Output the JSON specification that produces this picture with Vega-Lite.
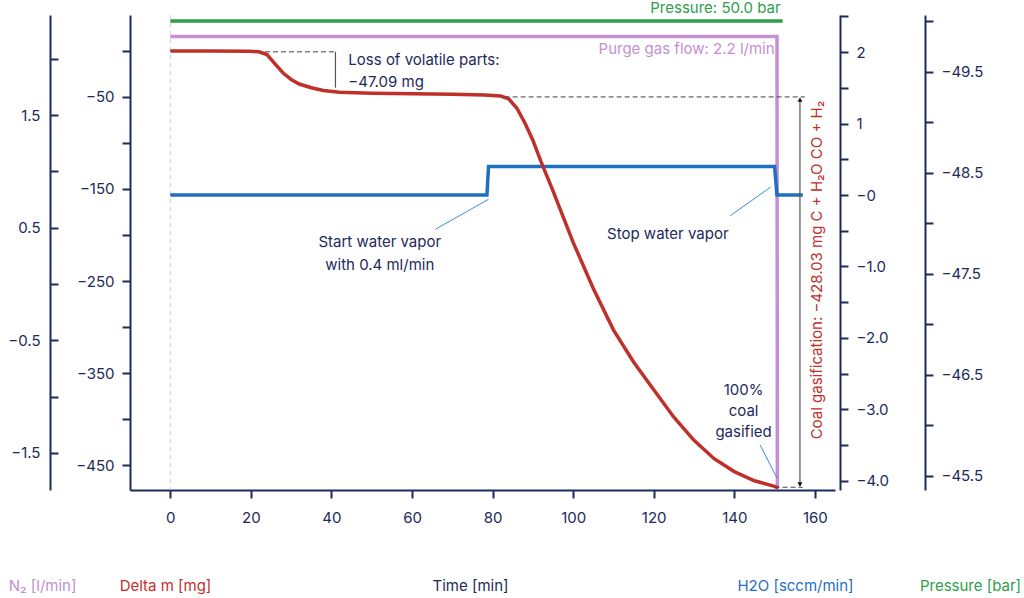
{
  "$schema": "https://vega.github.io/schema/vega-lite/v6.json",
  "autosize": "none",
  "width": 705,
  "height": 475,
  "padding": {"left": 130, "top": 15, "right": 189, "bottom": 108},
  "background": "white",
  "config": {
    "font": "Inter",
    "view": {"stroke": null},
    "axis": {
      "domainColor": "#1d2a5a", "domainWidth": 2, "tickColor": "#1d2a5a", "tickWidth": 2, "tickSize": 8,
      "labelColor": "#1d2a5a", "labelFontSize": 15, "labelPadding": 8, "grid": false,
      "titleFontSize": 15, "titleFontWeight": "normal", "titleAngle": 0, "titleBaseline": "middle"
    }
  },
  "datasets": {
    "mass": [
      {"t": 0, "v": 0}, {"t": 10, "v": 0}, {"t": 20, "v": -0.5}, {"t": 22, "v": -1}, {"t": 24, "v": -4},
      {"t": 26, "v": -14}, {"t": 28, "v": -24}, {"t": 30, "v": -31}, {"t": 32, "v": -36}, {"t": 35, "v": -40},
      {"t": 38, "v": -43}, {"t": 42, "v": -45}, {"t": 50, "v": -46}, {"t": 60, "v": -46.5}, {"t": 70, "v": -47},
      {"t": 78, "v": -48}, {"t": 82, "v": -49}, {"t": 84, "v": -52}, {"t": 86, "v": -62}, {"t": 88, "v": -78},
      {"t": 90, "v": -97}, {"t": 92, "v": -120}, {"t": 95, "v": -152}, {"t": 100, "v": -208}, {"t": 105, "v": -258},
      {"t": 110, "v": -303}, {"t": 115, "v": -338}, {"t": 120, "v": -368}, {"t": 125, "v": -398}, {"t": 130, "v": -423},
      {"t": 135, "v": -443}, {"t": 140, "v": -457}, {"t": 145, "v": -467}, {"t": 150, "v": -473}, {"t": 151, "v": -475}
    ],
    "water": [
      {"t": 0, "v": 0}, {"t": 78.6, "v": 0}, {"t": 79, "v": 0.4}, {"t": 150, "v": 0.4}, {"t": 150.6, "v": 0}, {"t": 157, "v": 0}
    ],
    "purge": [{"t": 0, "v": 2.2}, {"t": 150.6, "v": 2.2}, {"t": 150.7, "v": -1.8}],
    "pressure": [{"t": 0, "v": -50}, {"t": 152, "v": -50}]
  },
  "encoding": {
    "x": {
      "field": "t", "type": "quantitative",
      "scale": {"domain": [-10, 165], "nice": false},
      "axis": {"values": [0, 20, 40, 60, 80, 100, 120, 140, 160], "title": "Time [min]", "titleColor": "#1d2a5a", "titleX": 340, "titleY": 95, "labelPadding": 12}
    }
  },
  "layer": [
    {
      "data": {"values": [{"t": 0}]},
      "mark": {"type": "rule", "color": "#cccccc", "strokeDash": [4, 4], "strokeWidth": 1},
      "encoding": {}
    },
    {
      "data": {"name": "purge"},
      "mark": {"type": "line", "color": "#c48fd3", "strokeWidth": 3.5},
      "encoding": {
        "y": {"field": "v", "type": "quantitative", "scale": {"domain": [-1.83, 2.39], "nice": false, "zero": false},
          "axis": {"orient": "left", "offset": 80, "tickSize": -8, "labelPadding": 18, "values": [2, 1.5, 1, 0.5, 0, -0.5, -1, -1.5],
            "labelExpr": "abs(datum.value % 1) == 0.5 ? (datum.value < 0 ? '−' + format(-datum.value, '.1f') : format(datum.value, '.1f')) : ''",
            "title": "N₂ [l/min]", "titleColor": "#c48fd3", "titleX": -8, "titleY": 570}}
      }
    },
    {
      "data": {"name": "pressure"},
      "mark": {"type": "line", "color": "#2e9e4a", "strokeWidth": 3.5},
      "encoding": {
        "y": {"field": "v", "type": "quantitative", "scale": {"domain": [-50.06, -45.36], "nice": false, "zero": false, "reverse": true},
          "axis": {"orient": "right", "offset": 90, "values": [-50, -49.5, -49, -48.5, -48, -47.5, -47, -46.5, -46, -45.5],
            "labelExpr": "abs(datum.value % 1) == 0.5 ? '−' + format(-datum.value, '.1f') : ''",
            "title": "Pressure [bar]", "titleColor": "#2e9e4a", "titleX": 45, "titleY": 570}}
      }
    },
    {
      "data": {"name": "water"},
      "mark": {"type": "line", "color": "#1f70c1", "strokeWidth": 3.5},
      "encoding": {
        "y": {"field": "v", "type": "quantitative", "scale": {"domain": [-4.13, 2.52], "nice": false, "zero": false},
          "axis": {"orient": "right", "offset": 5, "values": [2.5, 2, 1.5, 1, 0.5, 0, -0.5, -1, -1.5, -2, -2.5, -3, -3.5, -4],
            "labelExpr": "datum.value == 2 ? '2' : datum.value == 1 ? '1' : datum.value == 0 ? '−0' : (datum.value < 0 && datum.value % 1 == 0) ? '−' + format(-datum.value, '.1f') : ''",
            "title": "H2O [sccm/min]", "titleColor": "#1f70c1", "titleX": -45, "titleY": 570}}
      }
    },
    {
      "data": {"name": "mass"},
      "mark": {"type": "line", "color": "#c0302a", "strokeWidth": 3.5},
      "encoding": {
        "y": {"field": "v", "type": "quantitative", "scale": {"domain": [-477, 39], "nice": false, "zero": false},
          "axis": {"orient": "left", "values": [0, -50, -100, -150, -200, -250, -300, -350, -400, -450],
            "labelExpr": "datum.value % 100 == -50 ? '−' + format(-datum.value, 'd') : ''",
            "title": "Delta m [mg]", "titleColor": "#c0302a", "titleX": 35, "titleY": 570}}
      }
    },
    {
      "data": {"values": [
        {"t": 23.5, "t2": 41, "v": -1},
        {"t": 83, "t2": 157.5, "v": -50},
        {"t": 150, "t2": 157, "v": -474}
      ]},
      "mark": {"type": "rule", "color": "#444444", "strokeDash": [5, 3], "strokeWidth": 1},
      "encoding": {
        "x2": {"field": "t2"},
        "y": {"field": "v", "type": "quantitative", "scale": {"domain": [-477, 39], "nice": false, "zero": false}, "axis": null}
      }
    },
    {
      "data": {"values": [{"t": 146.4, "v": -428, "t2": 150.6, "v2": -464}]},
      "mark": {"type": "rule", "strokeWidth": 1, "color": "#3a8fd8"},
      "encoding": {
        "x2": {"field": "t2"},
        "y": {"field": "v", "type": "quantitative", "scale": {"domain": [-477, 39], "nice": false, "zero": false}, "axis": null},
        "y2": {"field": "v2"}
      }
    },
    {
      "data": {"values": [
        {"t": 41, "v": -1, "v2": -40},
        {"t": 156.3, "v": -52, "v2": -472}
      ]},
      "mark": {"type": "rule", "strokeWidth": 1.2, "color": "#555555"},
      "encoding": {
        "y": {"field": "v", "type": "quantitative", "scale": {"domain": [-477, 39], "nice": false, "zero": false}, "axis": null},
        "y2": {"field": "v2"}
      }
    },
    {
      "data": {"values": [
        {"t": 156.3, "v": -53, "s": "triangle-up"},
        {"t": 156.3, "v": -471, "s": "triangle-down"}
      ]},
      "mark": {"type": "point", "filled": true, "color": "#111111", "size": 25, "opacity": 1},
      "encoding": {
        "shape": {"field": "s", "type": "nominal", "scale": null},
        "y": {"field": "v", "type": "quantitative", "scale": {"domain": [-477, 39], "nice": false, "zero": false}, "axis": null}
      }
    },
    {
      "data": {"values": [
        {"t": 65.8, "v": -0.48, "t2": 79, "v2": -0.06},
        {"t": 139, "v": -0.29, "t2": 149, "v2": 0.11}
      ]},
      "mark": {"type": "rule", "strokeWidth": 1, "color": "#3a8fd8"},
      "encoding": {
        "x2": {"field": "t2"},
        "y": {"field": "v", "type": "quantitative", "scale": {"domain": [-4.13, 2.52], "nice": false, "zero": false}, "axis": null},
        "y2": {"field": "v2"}
      }
    },
    {
      "data": {"values": [
        {"t": 44.2, "v": -9.8, "label": "Loss of volatile parts:"},
        {"t": 44.2, "v": -33.7, "label": "−47.09 mg"}
      ]},
      "mark": {"type": "text", "color": "#1d2a5a", "fontSize": 15, "align": "left", "baseline": "middle"},
      "encoding": {
        "text": {"field": "label"},
        "y": {"field": "v", "type": "quantitative", "scale": {"domain": [-477, 39], "nice": false, "zero": false}, "axis": null}
      }
    },
    {
      "data": {"values": [
        {"t": 52, "v": -208, "label": "Start water vapor"},
        {"t": 52, "v": -233, "label": "with 0.4 ml/min"},
        {"t": 123.5, "v": -199, "label": "Stop water vapor"},
        {"t": 142.3, "v": -368, "label": "100%"},
        {"t": 142.3, "v": -391, "label": "coal"},
        {"t": 142.3, "v": -414, "label": "gasified"}
      ]},
      "mark": {"type": "text", "color": "#1d2a5a", "fontSize": 15, "align": "center", "baseline": "middle"},
      "encoding": {
        "text": {"field": "label"},
        "y": {"field": "v", "type": "quantitative", "scale": {"domain": [-477, 39], "nice": false, "zero": false}, "axis": null}
      }
    },
    {
      "data": {"values": [{"t": 160.5, "v": -238, "label": "Coal gasification: −428.03 mg C + H₂O CO + H₂"}]},
      "mark": {"type": "text", "color": "#c0302a", "fontSize": 15, "angle": 270, "align": "center", "baseline": "middle"},
      "encoding": {
        "text": {"field": "label"},
        "y": {"field": "v", "type": "quantitative", "scale": {"domain": [-477, 39], "nice": false, "zero": false}, "axis": null}
      }
    },
    {
      "data": {"values": [{"t": 151.5, "v": -50.13, "label": "Pressure: 50.0 bar"}]},
      "mark": {"type": "text", "color": "#2e9e4a", "fontSize": 15, "align": "right", "baseline": "middle"},
      "encoding": {
        "text": {"field": "label"},
        "y": {"field": "v", "type": "quantitative", "scale": {"domain": [-50.06, -45.36], "nice": false, "zero": false, "reverse": true}, "axis": null}
      }
    },
    {
      "data": {"values": [{"t": 150, "v": 2.09, "label": "Purge gas flow: 2.2 l/min"}]},
      "mark": {"type": "text", "color": "#c48fd3", "fontSize": 15, "align": "right", "baseline": "middle"},
      "encoding": {
        "text": {"field": "label"},
        "y": {"field": "v", "type": "quantitative", "scale": {"domain": [-1.83, 2.39], "nice": false, "zero": false}, "axis": null}
      }
    }
  ],
  "resolve": {"scale": {"y": "independent", "shape": "independent"}, "axis": {"y": "independent"}}
}
